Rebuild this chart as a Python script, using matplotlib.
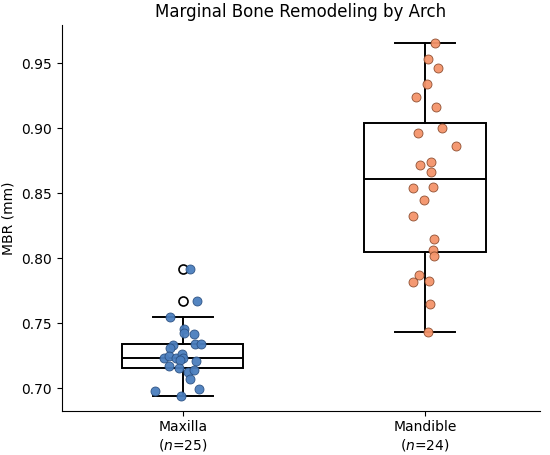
import matplotlib
matplotlib.use("Agg")
import matplotlib.pyplot as plt
import numpy as np

categories = ["Maxilla", "Mandible"]
tick_labels = ["Maxilla\n($n$=25)", "Mandible\n($n$=24)"]

maxilla = [0.7918, 0.7672, 0.7551, 0.7456, 0.7428, 0.7418, 0.7333, 0.7308,
           0.7338, 0.7338, 0.7235, 0.7248, 0.7231, 0.7262, 0.7231, 0.7218,
           0.7210, 0.7174, 0.7158, 0.7123, 0.7141, 0.7072, 0.6982, 0.6995,
           0.6941]
maxilla_jitter = [0.028, 0.059, -0.052, 0.005, 0.005, 0.047, -0.040, -0.052,
                  0.052, 0.075, -0.076, -0.059, -0.027, -0.003, 0.001, -0.010,
                  0.054, -0.056, -0.017, 0.020, 0.045, 0.028, -0.116, 0.069,
                  -0.007]

mandible = [0.9658, 0.9535, 0.9462, 0.9343, 0.9238, 0.9166, 0.9000, 0.8964,
            0.8862, 0.8720, 0.8738, 0.8666, 0.8538, 0.8551, 0.8448, 0.8328,
            0.8148, 0.8064, 0.8018, 0.7869, 0.7818, 0.7828, 0.7648, 0.7431]
mandible_jitter = [0.041, 0.014, 0.052, 0.007, -0.038, 0.044, 0.069, -0.030,
                   0.128, -0.022, 0.026, 0.026, -0.048, 0.032, -0.004, -0.048,
                   0.038, 0.034, 0.038, -0.025, -0.051, 0.015, 0.022, 0.014]

colors = ["#4B7EBE", "#F4946A"]
edges = ["#2A4F80", "#8A4A2C"]

fig = plt.figure(figsize=(5.5, 4.55), dpi=100)
ax = fig.add_axes([61.7 / 550, 1 - 410.7 / 455, (540 - 61.7) / 550, (410.7 - 25) / 455])

data = [maxilla, mandible]
lw = 1.4
ax.boxplot(data, positions=[0, 1], widths=0.5, patch_artist=True,
           boxprops=dict(facecolor="white", edgecolor="black", linewidth=lw),
           medianprops=dict(color="black", linewidth=lw),
           whiskerprops=dict(color="black", linewidth=lw),
           capprops=dict(color="black", linewidth=lw),
           flierprops=dict(marker="o", markerfacecolor="white", markeredgecolor="black",
                           markersize=6.5, markeredgewidth=1.2),
           zorder=2)

for i, (vals, jit) in enumerate([(maxilla, maxilla_jitter), (mandible, mandible_jitter)]):
    xs = i + np.array(jit)
    ax.scatter(xs, vals, s=42, color=colors[i], edgecolor=edges[i], linewidth=0.6,
               alpha=0.95, zorder=3)

ax.set_xlim(-0.5, 1.475)
ax.set_ylim(0.6828, 0.9795)
ax.set_yticks([0.70, 0.75, 0.80, 0.85, 0.90, 0.95])
ax.set_yticklabels(["0.70", "0.75", "0.80", "0.85", "0.90", "0.95"])
ax.set_xticks([0, 1])
ax.set_xticklabels(tick_labels)
ax.tick_params(labelsize=10)
ax.set_ylabel("MBR (mm)", fontsize=10)
ax.set_title("Marginal Bone Remodeling by Arch", fontsize=12)
ax.spines["top"].set_visible(False)
ax.spines["right"].set_visible(False)

fig.savefig("out.png", dpi=100)
